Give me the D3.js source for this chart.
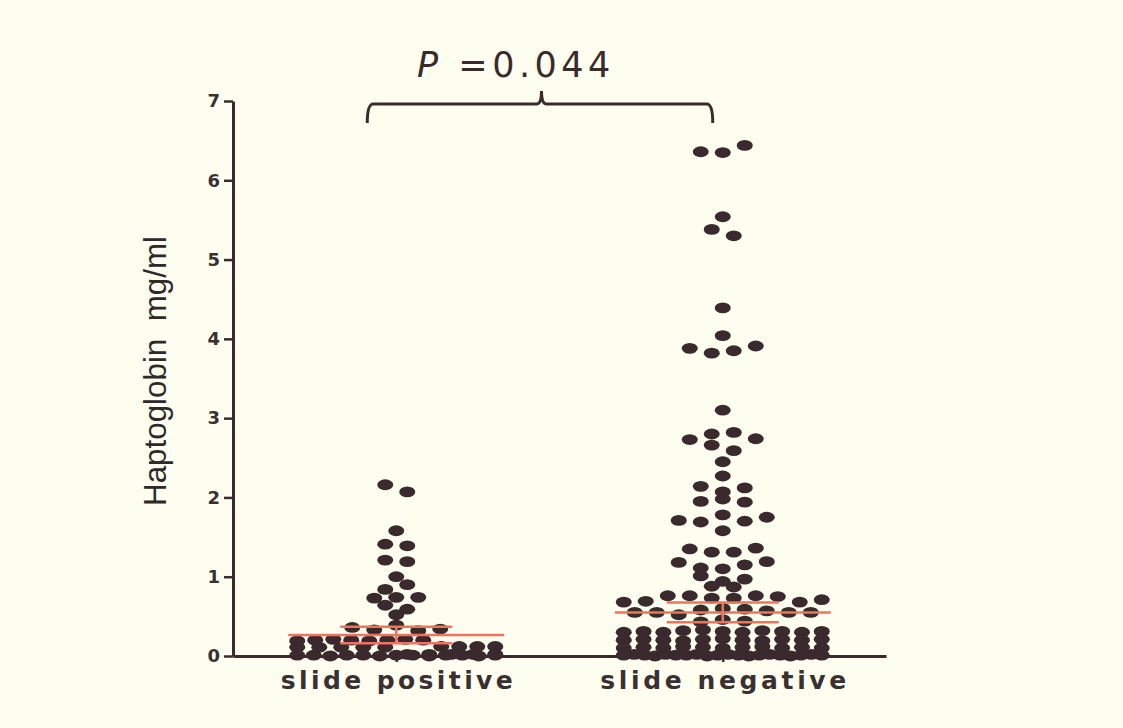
<!DOCTYPE html>
<html>
<head>
<meta charset="utf-8">
<script src="https://cdn.jsdelivr.net/npm/d3@7"></script>
<style>
  html, body { margin: 0; padding: 0; background: #fefef0; }
  svg { display: block; }
</style>
</head>
<body>
<svg id="chart" width="1123" height="728"></svg>
<script>
// ---------------- data ----------------
const categories = ["slide positive", "slide negative"];

// values listed row by row, top to bottom, left to right as read
const slidePositive = [
  2.16, 2.07,
  1.58,
  1.41, 1.39,
  1.21, 1.19,
  1.00,
  0.84, 0.90,
  0.73, 0.74, 0.74,
  0.64, 0.59,
  0.52,
  0.36, 0.33, 0.39, 0.32, 0.34,
  0.19, 0.20, 0.21, 0.20, 0.19, 0.20, 0.21, 0.20,
  0.11, 0.12, 0.11, 0.12, 0.11, 0.12, 0.11, 0.12, 0.11,
  0.01, 0.02, 0.01, 0.00, 0.02, 0.01, 0.01, 0.02, 0.00,
  0.01, 0.02, 0.01, 0.00, 0.01, 0.02, 0.01, 0.00, 0.01
];

const slideNegative = [
  6.36, 6.35, 6.44,
  5.54,
  5.38, 5.30,
  4.39,
  4.04,
  3.88, 3.82, 3.85, 3.91,
  3.10,
  2.73, 2.80, 2.82, 2.74,
  2.66, 2.59,
  2.45,
  2.27,
  2.14, 2.07, 2.12,
  1.95, 1.98, 1.94,
  1.71, 1.69, 1.78, 1.70, 1.75,
  1.58,
  1.35, 1.31, 1.31, 1.36,
  1.18, 1.11, 1.10, 1.15, 1.19,
  1.01, 0.94, 0.97,
  0.88, 0.87,
  0.68, 0.69, 0.76, 0.76, 0.73, 0.73, 0.76, 0.75, 0.68, 0.71,
  0.55, 0.55, 0.52, 0.58, 0.60, 0.59, 0.57, 0.55, 0.55,
  0.43, 0.46, 0.44,
  0.30, 0.31, 0.30, 0.32, 0.33, 0.31, 0.30, 0.32, 0.31, 0.30, 0.31,
  0.20, 0.21, 0.20, 0.19, 0.21, 0.22, 0.20, 0.19, 0.21, 0.20, 0.21,
  0.10, 0.11, 0.10, 0.12, 0.11, 0.10, 0.11, 0.12, 0.10, 0.11, 0.10,
  0.01, 0.02, 0.01, 0.00, 0.02, 0.01, 0.01, 0.02, 0.00, 0.01,
  0.02, 0.01, 0.00, 0.01, 0.02, 0.01, 0.00, 0.01, 0.02, 0.01
];

const means = [0.265, 0.55];
const sems  = [0.105, 0.125];
const yTicks = [0, 1, 2, 3, 4, 5, 6, 7];
const yLabel = "Haptoglobin  mg/ml";
const pItalic = "P";
const pRest = " =0.044";

// ---------------- drawing ----------------
const svg = d3.select("#chart");
const W = 1123, H = 728;
const ink = "#3b2b2b";
const red = "#f0735f";

svg.append("rect").attr("width", W).attr("height", H).attr("fill", "#fefef0");

const x = d3.scalePoint().domain(categories).range([233, 886]).padding(0.5);
const y = d3.scaleLinear().domain([0, 7]).range([656, 101]);

// Prism-like row layout: group values into rows, spread each row around the column centre
const ROW_T = 0.09, STEP = 22, MAXW = 198;
function layout(values, cx) {
  const idx = values.map((v, i) => i).sort((a, b) => values[b] - values[a] || a - b);
  const rows = [];
  let cur = null;
  idx.forEach(i => {
    if (!cur || values[i] < cur.start - ROW_T - 1e-6) {
      cur = { start: values[i], members: [] };
      rows.push(cur);
    }
    cur.members.push(i);
  });
  const out = [];
  rows.forEach(r => {
    r.members.sort((a, b) => a - b);
    const n = r.members.length;
    const s = n > 1 ? Math.min(STEP, MAXW / (n - 1)) : 0;
    r.members.forEach((i, k) => out.push({ v: values[i], x: cx + (k - (n - 1) / 2) * s }));
  });
  return out;
}

const groups = [slidePositive, slideNegative];

// axes
const yAxis = d3.axisLeft(y).tickValues(yTicks).tickFormat(d3.format("d"))
  .tickSize(9).tickSizeOuter(0).tickPadding(4);
const gy = svg.append("g").attr("transform", "translate(233,0)").call(yAxis);
gy.select(".domain").attr("stroke", ink).attr("stroke-width", 3);
gy.selectAll(".tick line").attr("stroke", ink).attr("stroke-width", 2.5);
gy.selectAll(".tick text")
  .attr("fill", "#3a3030").attr("font-family", "DejaVu Sans, Liberation Sans, sans-serif")
  .attr("font-weight", "bold").attr("font-size", 18);

const xAxis = d3.axisBottom(x).tickSize(6).tickSizeOuter(0).tickPadding(9);
const gx = svg.append("g").attr("transform", "translate(0,656)").call(xAxis);
gx.select(".domain").attr("stroke", ink).attr("stroke-width", 3);
gx.selectAll(".tick line").attr("stroke", ink).attr("stroke-width", 2.5);
gx.selectAll(".tick text")
  .attr("fill", "#3a3030").attr("font-family", "DejaVu Sans, Liberation Sans, sans-serif")
  .attr("font-weight", "bold").attr("font-size", 25)
  .attr("textLength", (d, i) => i === 0 ? 232 : 246)
  .attr("lengthAdjust", "spacing");

// dots
groups.forEach((vals, gi) => {
  const pts = layout(vals, x(categories[gi]));
  svg.append("g").selectAll("ellipse").data(pts).join("ellipse")
    .attr("cx", d => d.x).attr("cy", d => y(d.v))
    .attr("rx", 8).attr("ry", 5.4)
    .attr("fill", "#3a2a2d");
});

// mean +/- SEM
categories.forEach((c, i) => {
  const cx = x(c);
  const g = svg.append("g").attr("stroke", red).attr("stroke-width", 2.5).attr("fill", "none");
  g.append("line").attr("x1", cx - 108).attr("x2", cx + 108).attr("y1", y(means[i])).attr("y2", y(means[i]));
  g.append("line").attr("x1", cx).attr("x2", cx).attr("y1", y(means[i] + sems[i])).attr("y2", y(means[i] - sems[i]));
  g.append("line").attr("x1", cx - 56).attr("x2", cx + 56).attr("y1", y(means[i] + sems[i])).attr("y2", y(means[i] + sems[i]));
  g.append("line").attr("x1", cx - 56).attr("x2", cx + 56).attr("y1", y(means[i] - sems[i])).attr("y2", y(means[i] - sems[i]));
});

// y-axis title
svg.append("text")
  .attr("transform", "translate(166,371) rotate(-90)")
  .attr("text-anchor", "middle")
  .attr("font-family", "Liberation Sans Narrow, Liberation Sans, Arial, sans-serif")
  .attr("font-size", 32)
  .attr("fill", "#2e2a2a")
  .attr("textLength", 270).attr("lengthAdjust", "spacingAndGlyphs")
  .style("white-space", "pre")
  .text(yLabel);

// significance bracket
const xl = x(categories[0]) - 29, xr = x(categories[1]) - 10, xm = (x(categories[0]) + x(categories[1])) / 2 - 18;
const by = 104;
svg.append("path")
  .attr("d", `M${xl},123 Q${xl},${by} ${xl + 6},${by} L${xm - 5},${by} Q${xm},${by} ${xm},${by - 13} Q${xm},${by} ${xm + 5},${by} L${xr - 6},${by} Q${xr},${by} ${xr},123`)
  .attr("fill", "none").attr("stroke", ink).attr("stroke-width", 3);

const pt = svg.append("text")
  .attr("x", 516).attr("y", 77)
  .attr("text-anchor", "middle")
  .attr("font-family", "DejaVu Sans, Liberation Sans, sans-serif")
  .attr("font-size", 35)
  .attr("letter-spacing", 4.5)
  .attr("fill", "#3a2b2b")
  .style("white-space", "pre");
pt.append("tspan").attr("font-style", "italic").text(pItalic);
pt.append("tspan").text(pRest);
</script>
</body>
</html>
